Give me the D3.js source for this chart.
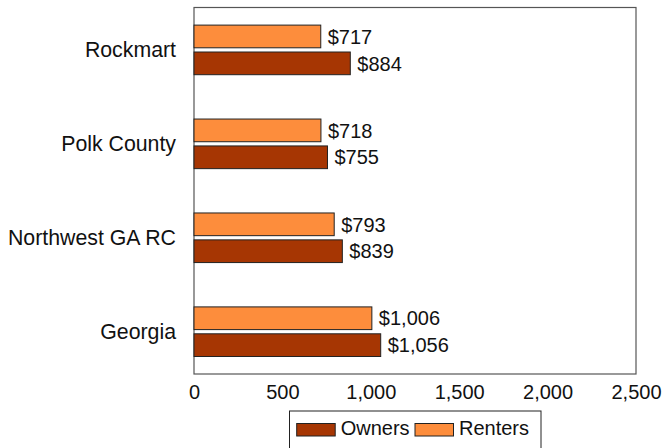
<!DOCTYPE html>
<html><head><meta charset="utf-8">
<script src="https://cdn.jsdelivr.net/npm/d3@7"></script>
<style>body{margin:0;background:#fff}svg{display:block}text{font-family:"Liberation Sans",Arial,sans-serif;fill:#111}</style>
</head><body>
<script>
const categories = ["Rockmart", "Polk County", "Northwest GA RC", "Georgia"];
const owners = [884, 755, 839, 1056];
const renters = [717, 718, 793, 1006];
const xTicks = [0, 500, 1000, 1500, 2000, 2500];
const seriesNames = ["Owners", "Renters"];
const colors = {Owners: "#a63603", Renters: "#fd8d3c"};

(function () {
const W = 664, H = 448;
const pLeft = 194, pRight = 636, pTop = 7.5, pBottom = 374;
const svg = d3.select("body").append("svg").attr("width", W).attr("height", H);

const x = d3.scaleLinear().domain([0, 2500]).range([pLeft, pRight]);
const y = d3.scalePoint().domain(categories).range([49.9, 331.7]);
const barH = 22.7, off = 13.45;
const fmt = d3.format(",");

// frame
svg.append("rect").attr("x", pLeft).attr("y", pTop).attr("width", pRight - pLeft).attr("height", pBottom - pTop)
  .attr("fill", "none").attr("stroke", "#555").attr("stroke-width", 1.2);

// bars
const rows = categories.map((c, i) => ({c, owners: owners[i], renters: renters[i]}));
const series = [{name: "Renters", key: "renters", dy: -off}, {name: "Owners", key: "owners", dy: off}];
series.forEach(s => {
  const g = svg.append("g");
  g.selectAll("rect").data(rows).join("rect")
    .attr("x", x(0)).attr("y", d => y(d.c) + s.dy - barH / 2)
    .attr("width", d => x(d[s.key]) - x(0)).attr("height", barH)
    .attr("fill", colors[s.name]).attr("stroke", "#222").attr("stroke-width", 1);
  g.selectAll("text").data(rows).join("text")
    .attr("x", d => x(d[s.key]) + 7).attr("y", d => y(d.c) + s.dy)
    .attr("dy", "0.36em").attr("font-size", 20)
    .text(d => "$" + fmt(d[s.key]));
});

// y axis labels
const yAxis = d3.axisLeft(y).tickSize(0).tickPadding(18);
const ya = svg.append("g").attr("transform", `translate(${pLeft},0)`).call(yAxis);
ya.select(".domain").remove();
ya.selectAll("text").attr("font-size", 21.3).attr("dy", "0.3em").style("font-family", '"Liberation Sans",Arial,sans-serif').attr("fill", "#111");

// x axis
const xAxis = d3.axisBottom(x).tickValues(xTicks).tickSize(0).tickPadding(11).tickFormat(fmt);
const xa = svg.append("g").attr("transform", `translate(0,${pBottom})`).call(xAxis);
xa.select(".domain").remove();
xa.selectAll("text").attr("font-size", 20).style("font-family", '"Liberation Sans",Arial,sans-serif').attr("fill", "#111");

// legend
const lg = svg.append("g");
lg.append("rect").attr("x", 289.5).attr("y", 411).attr("width", 251.5).attr("height", 45)
  .attr("fill", "#fff").attr("stroke", "#222").attr("stroke-width", 1);
const legX = [296.7, 415];
seriesNames.forEach((n, i) => {
  lg.append("rect").attr("x", legX[i]).attr("y", 423.5).attr("width", 38.5).attr("height", 12.5)
    .attr("fill", colors[n]).attr("stroke", "#222").attr("stroke-width", 1);
  lg.append("text").attr("x", legX[i] + 44).attr("y", 435).attr("font-size", 20).text(n);
});
})();
</script>
</body></html>
